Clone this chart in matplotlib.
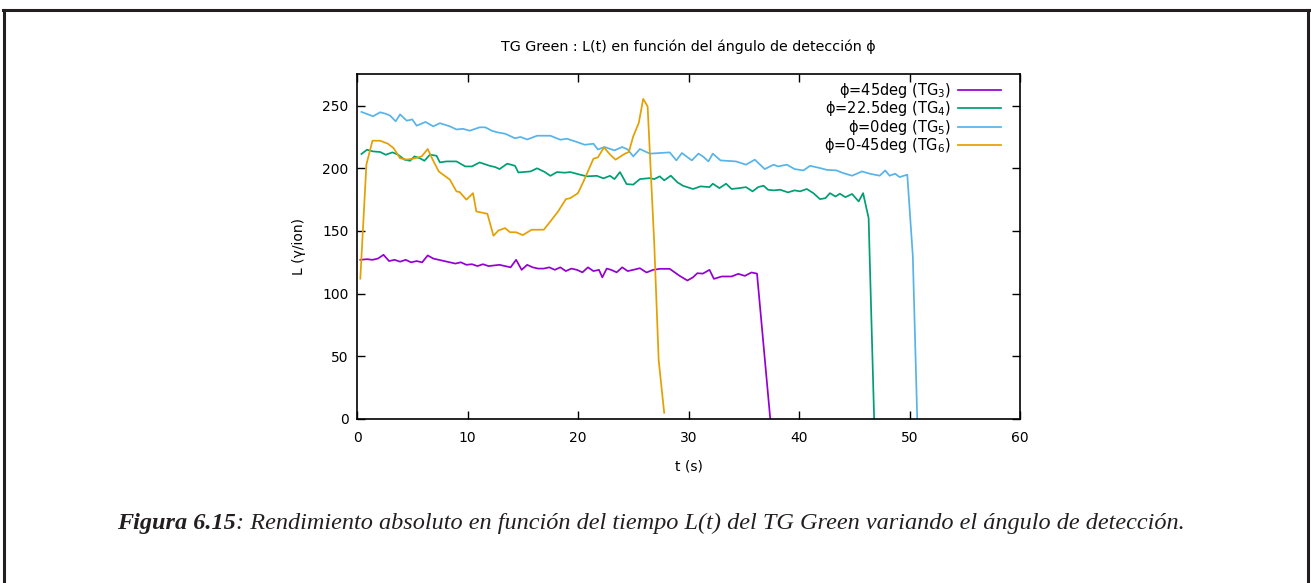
import matplotlib
matplotlib.use("Agg")
import matplotlib.pyplot as plt
from matplotlib.lines import Line2D

# ---------------- data ----------------
t_tg3 = [0.3, 0.9, 1.4, 1.9, 2.4, 2.9, 3.4, 3.9, 4.4, 4.9, 5.4, 5.9, 6.4, 6.9, 7.4, 7.9,
         8.4, 8.9, 9.4, 9.9, 10.4, 10.9, 11.4, 11.9, 12.4, 12.9, 13.4, 13.9, 14.4, 14.9,
         15.4, 15.9, 16.4, 16.9, 17.4, 17.9, 18.4, 18.9, 19.4, 19.9, 20.4, 20.9, 21.4,
         21.9, 22.2, 22.6, 23.0, 23.5, 24.0, 24.5, 25.0, 25.6, 26.2, 26.8, 27.4, 28.3,
         29.2, 29.9, 30.4, 30.8, 31.3, 31.9, 32.3, 33.0, 33.9, 34.5, 35.1, 35.7, 36.2, 37.4]
L_tg3 = [127, 127.5, 127, 128, 131, 126, 127, 125.5, 127, 125, 126, 125, 130.5, 128, 127, 126,
         125, 124, 125, 123, 123.5, 122, 123.5, 122, 122.5, 123, 122, 121, 127, 119,
         123, 121, 120, 120, 121, 119, 121, 118, 120, 119, 117, 121, 118,
         119, 113, 120, 119, 117, 121, 118, 119, 120.3, 116.9, 119, 119.8, 119.8,
         114.2, 110.5, 113, 116.3, 116, 119, 111.8, 113.7, 113.7, 115.8, 114.2, 116.9, 116, 0]

t_tg4 = [0.4, 0.9, 1.45, 2.1, 2.6, 3.2, 3.7, 4.3, 4.8, 5.2, 5.7, 6.1, 6.6, 7.2, 7.5, 8.1, 9.0,
         9.8, 10.4, 11.1, 12.0, 12.5, 12.9, 13.6, 14.3, 14.6, 15.7, 16.3, 17.0, 17.5, 18.1,
         18.8, 19.3, 20.2, 20.8, 21.7, 22.3, 22.9, 23.3, 23.8, 24.4, 25.0, 25.6, 26.5, 26.9,
         27.4, 27.8, 28.4, 29.0, 29.5, 30.4, 31.1, 31.9, 32.2, 32.8, 33.4, 33.9, 34.6, 35.2,
         35.8, 36.3, 36.8, 37.2, 37.7, 38.3, 39.0, 39.6, 40.1, 40.7, 41.3, 41.9, 42.4, 42.8,
         43.3, 43.7, 44.2, 44.8, 45.4, 45.8, 46.3, 46.8]
L_tg4 = [211.4, 214.8, 213.5, 213, 210.8, 212.7, 211, 206.9, 206, 209.5, 208, 206, 210.9, 210,
         204.7, 205.5, 205.5, 201.5, 201.5, 204.7, 202, 201, 199.4, 203.7, 202, 196.7, 197.5,
         200, 197, 194, 197, 196.5, 197, 194.9, 193.6, 194, 192, 194, 191.4, 197, 187.4, 187,
         191.4, 192.2, 191.4, 193.6, 190.4, 194.1, 188.8, 186.1, 183.5, 185.6, 185, 187.7,
         184.2, 187.7, 183.5, 184.2, 185, 181.6, 185, 186.1, 182.9, 182.4, 182.9, 180.8, 182.4,
         181.6, 183.5, 180.2, 175.4, 176.2, 180.2, 177.5, 179.7, 177, 179.5, 173.6, 180.2,
         160.3, 0]

t_tg5 = [0.4, 1.0, 1.45, 2.1, 2.6, 3.0, 3.5, 3.9, 4.5, 5.0, 5.4, 6.2, 6.9, 7.5, 8.4, 9.0, 9.6,
         10.2, 11.1, 11.6, 12.2, 12.7, 13.4, 14.3, 14.8, 15.4, 16.3, 17.0, 17.5, 18.4, 19.0,
         19.9, 20.6, 21.4, 21.8, 22.4, 23.3, 24.0, 24.5, 25.0, 25.6, 26.5, 27.4, 28.3, 28.9,
         29.4, 30.3, 30.9, 31.3, 31.8, 32.2, 32.9, 34.3, 35.2, 36.0, 36.9, 37.7, 38.1, 38.9,
         39.6, 40.4, 41.0, 41.9, 42.5, 43.4, 44.0, 44.8, 45.7, 46.4, 47.3, 47.8, 48.2, 48.7,
         49.1, 49.8, 50.3, 50.7]
L_tg5 = [245, 243, 241.5, 244.7, 243.5, 242, 237.5, 243, 238, 239, 234, 237, 233.5, 236, 233.5,
         231, 231.5, 230, 232.7, 232.7, 230, 228.7, 227.6, 224, 225, 223, 226, 226, 226, 222.8,
         223.6, 221, 218.8, 219.6, 215, 217, 214.3, 217, 215, 209.5, 215.4, 211.7, 212.2, 212.7,
         206.3, 212.2, 206.3, 211.7, 209.5, 205.5, 211.7, 206.3, 205.5, 202.9, 206.9, 199.4,
         202.9, 201.5, 202.9, 199.4, 198.3, 202, 200.2, 198.8, 198.3, 196.2, 194.1, 197.5,
         195.7, 194.1, 198.3, 194.1, 195.7, 193, 194.9, 130, 0]

t_tg6 = [0.3, 0.85, 1.4, 2.1, 2.8, 3.3, 3.9, 4.5, 5.25, 5.85, 6.4, 6.9, 7.4, 8.4, 9.0, 9.3, 9.9,
         10.5, 10.8, 11.8, 12.35, 12.8, 13.4, 13.85, 14.4, 15.0, 15.8, 16.9, 17.5, 18.2, 18.9,
         19.3, 20.0, 20.5, 21.4, 21.8, 22.35, 22.9, 23.4, 24.25, 24.6, 25.0, 25.5, 25.9, 26.3,
         26.9, 27.3, 27.8]
L_tg6 = [112, 203, 222, 222, 219.6, 216.2, 208, 207, 208, 209.5, 215.4, 206, 197.5, 191, 181.6,
         181, 175, 180.2, 165.6, 163.7, 146.2, 150.4, 152.3, 149, 149, 146.7, 151, 151, 157.6,
         165.6, 175.4, 176.2, 180.2, 189.6, 207.7, 208.7, 216.7, 211, 206.9, 211.7, 213, 225.5,
         236.2, 255.4, 249.4, 140, 47, 5]

series_labels = [r"ϕ=45deg (TG$_3$)", r"ϕ=22.5deg (TG$_4$)", r"ϕ=0deg (TG$_5$)", r"ϕ=0-45deg (TG$_6$)"]
series_colors = ["#9400D3", "#009E73", "#56B4E9", "#E69F00"]

x_ticks = [0, 10, 20, 30, 40, 50, 60]
y_ticks = [0, 50, 100, 150, 200, 250]

title_text = "TG Green : L(t) en función del ángulo de detección ϕ"
xlabel_text = "t (s)"
ylabel_text = "L (γ/ion)"
caption_bold = "Figura 6.15"
caption_rest = ": Rendimiento absoluto en función del tiempo L(t) del TG Green variando el ángulo de detección."

# ---------------- figure ----------------
W, H = 1311, 583
plt.rcParams['font.family'] = ['DejaVu Sans']
plt.rcParams['mathtext.fontset'] = 'dejavusans'
fig = plt.figure(figsize=(W / 100, H / 100), dpi=100)
fig.patch.set_facecolor("white")

ax = fig.add_axes([357 / W, 1 - 419 / H, (1020 - 357) / W, (419 - 74.3) / H])

for t, L, lab, col in zip([t_tg3, t_tg4, t_tg5, t_tg6], [L_tg3, L_tg4, L_tg5, L_tg6],
                          series_labels, series_colors):
    ax.plot(t, L, color=col, lw=1.25, label=lab)

ax.set_xlim(0, 60)
ax.set_ylim(0, 275)
ax.set_xticks(x_ticks)
ax.set_yticks(y_ticks)
ax.tick_params(direction="in", length=6, width=1, top=True, right=True,
               labelsize=10, colors="black")
ax.tick_params(axis="x", pad=9)
ax.tick_params(axis="y", pad=6)
for s in ax.spines.values():
    s.set_linewidth(1.2)
    s.set_color("black")

ax.set_xlabel(xlabel_text, fontsize=10, labelpad=10)
ax.set_ylabel(ylabel_text, fontsize=10, labelpad=12)
fig.text((357 + 1020) / 2 / W, 1 - 47 / H, title_text, ha="center", va="center", fontsize=10.3)

leg = ax.legend(loc="upper right", bbox_to_anchor=(0.975, 0.99), frameon=False,
                markerfirst=False, fontsize=10.5, handlelength=2.9, handletextpad=0.5,
                labelspacing=-0.03, borderaxespad=0, borderpad=0.2)
for txt in leg.get_texts():
    txt.set_ha("right")

# ---------------- page frame ----------------
lw_frame = 2.2
fig.add_artist(Line2D([3 / W, 1], [1 - 10 / H, 1 - 10 / H], transform=fig.transFigure,
                      color="#231f20", lw=lw_frame))
fig.add_artist(Line2D([4 / W, 4 / W], [0, 1 - 10 / H], transform=fig.transFigure,
                      color="#231f20", lw=lw_frame))
fig.add_artist(Line2D([1308 / W, 1308 / W], [0, 1 - 10 / H], transform=fig.transFigure,
                      color="#231f20", lw=lw_frame))

# ---------------- caption (sized to span 117..1188 px) ----------------
cap_y = 1 - 529 / H
r = fig.canvas.get_renderer()


def caption_width(fs):
    a = fig.text(0, 0, caption_bold, fontsize=fs, family="Liberation Serif",
                 style="italic", weight="bold")
    b = fig.text(0, 0, caption_rest, fontsize=fs, family="Liberation Serif", style="italic")
    w = a.get_window_extent(r).width + b.get_window_extent(r).width
    a.remove()
    b.remove()
    return w


fs0 = 15.0
cap_fs = fs0 * (1188 - 117) / caption_width(fs0)
t1 = fig.text(117 / W, cap_y, caption_bold, fontsize=cap_fs, family="Liberation Serif",
              style="italic", weight="bold", ha="left", va="baseline", color="#231f20")
bb = t1.get_window_extent(r)
fig.text(bb.x1 / W, cap_y, caption_rest, fontsize=cap_fs, family="Liberation Serif",
         style="italic", ha="left", va="baseline", color="#231f20")

fig.savefig("out.png", dpi=100, facecolor="white")
